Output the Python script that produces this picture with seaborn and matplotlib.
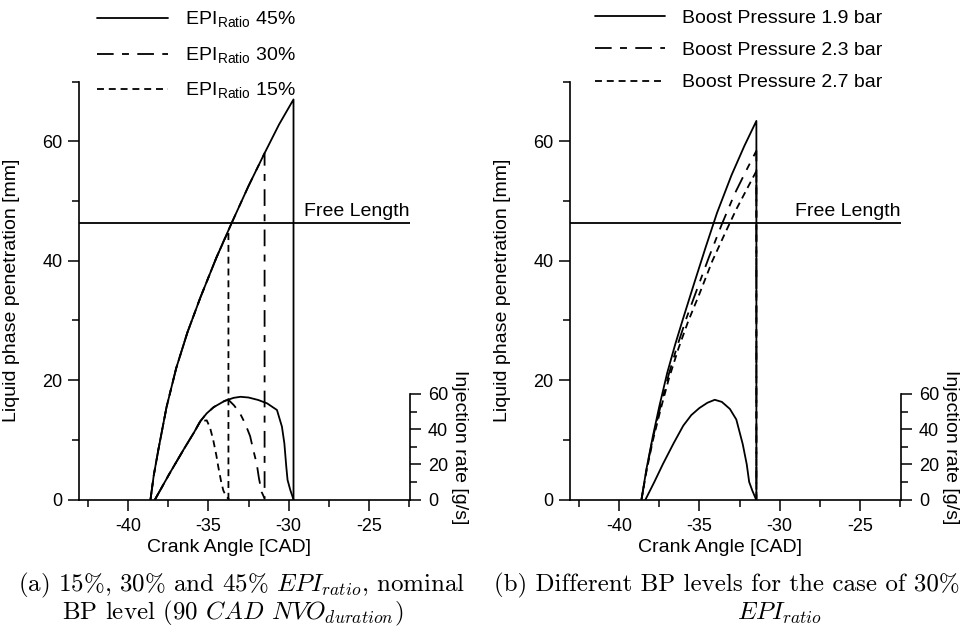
import matplotlib
matplotlib.use("Agg")
import matplotlib.pyplot as plt
from matplotlib.lines import Line2D
from matplotlib.ticker import FixedLocator
import pandas as pd
import seaborn as sns

# ---------------- data ----------------
# (a) EPI ratio sweep, nominal boost pressure: liquid penetration [mm]
cad_pen_45 = [-38.6, -38.4, -38.1, -37.6, -37.0, -36.3, -35.5, -34.5, -33.55, -32.5, -31.5, -30.6, -29.7, -29.7]
pen_45 = [0, 4.0, 8.5, 15.5, 22.0, 28.0, 33.8, 40.5, 46.3, 52.5, 58.0, 62.8, 67.0, 0]
cad_pen_30 = [-38.6, -38.4, -38.1, -37.6, -37.0, -36.3, -35.5, -34.5, -33.55, -32.5, -31.5, -31.5]
pen_30 = [0, 4.0, 8.5, 15.5, 22.0, 28.0, 33.8, 40.5, 46.3, 52.5, 58.0, 0]
cad_pen_15 = [-38.6, -38.4, -38.1, -37.6, -37.0, -36.3, -35.5, -34.5, -33.75, -33.75]
pen_15 = [0, 4.0, 8.5, 15.5, 22.0, 28.0, 33.8, 40.5, 45.0, 0]

# (a) injection rate [g/s]
cad_rate_45 = [-38.32, -37.4, -36.5, -35.9, -35.5, -35.1, -34.67, -34.0, -33.43, -33.0, -32.5, -31.9,
               -31.35, -30.73, -30.42, -30.27, -30.15, -30.07, -29.9, -29.7]
rate_45 = [0, 15, 29, 38, 44.5, 49, 52.5, 56, 57.8, 58.4, 58.0, 56.6, 54.7, 50.9, 41.4, 32, 18.7, 11.1, 5.4, 0]
cad_rate_30 = [-38.32, -37.4, -36.5, -35.9, -35.5, -35.1, -34.67, -34.0, -33.76, -33.4, -33.03, -32.7,
               -32.4, -32.2, -31.99, -31.85, -31.68, -31.47]
rate_30 = [0, 15, 29, 38, 44.5, 49, 52.5, 56, 56.8, 53.5, 49, 43, 36, 28, 20.4, 12, 4.2, 0]
cad_rate_15 = [-38.32, -37.4, -36.5, -35.9, -35.5, -35.1, -34.9, -34.7, -34.5, -34.38, -34.2, -34.07, -33.9, -33.7]
rate_15 = [0, 15, 29, 38, 44.5, 45, 41, 34, 25, 18.5, 10, 5.2, 1.8, 0]

# (b) boost pressure sweep, 30 % EPI ratio: liquid penetration [mm]
cad_pen_19 = [-38.6, -38.3, -37.9, -37.5, -37.0, -36.5, -36.0, -35.3, -34.6, -33.9, -33.0, -32.2, -31.45, -31.45]
pen_19 = [0, 5.0, 10.5, 15.5, 21.2, 26.0, 30.4, 36.4, 42.3, 48.0, 54.3, 59.2, 63.4, 0]
cad_pen_23 = [-38.6, -38.3, -37.9, -37.4, -36.9, -36.4, -35.8, -35.2, -34.4, -33.6, -32.8, -32.1, -31.45, -31.45]
pen_23 = [0, 4.8, 10.2, 15.8, 21.0, 25.5, 30.4, 34.8, 40.6, 46.1, 51.2, 55.0, 58.4, 0]
cad_pen_27 = [-38.6, -38.3, -37.9, -37.4, -36.9, -36.3, -35.7, -35.0, -34.2, -33.4, -32.7, -32.0, -31.45, -31.45]
pen_27 = [0, 4.6, 9.8, 15.2, 20.2, 25.3, 29.8, 34.4, 39.9, 44.6, 48.6, 52.2, 55.0, 0]

# (b) injection rate [g/s]
cad_rate_b = [-38.35, -37.8, -37.26, -36.6, -36.0, -35.5, -35.0, -34.5, -34.04, -33.6, -33.1, -32.7,
              -32.3, -32.05, -31.9, -31.7, -31.47]
rate_b = [0, 10, 20.3, 32, 42, 48, 52, 55, 56.7, 55.5, 51.5, 45.5, 31.5, 20, 10, 5, 0]

FREE_LENGTH = 46.3

labels_a = [r"EPI$_{\mathregular{Ratio}}$ 45%", r"EPI$_{\mathregular{Ratio}}$ 30%", r"EPI$_{\mathregular{Ratio}}$ 15%"]
labels_b = ["Boost Pressure 1.9 bar", "Boost Pressure 2.3 bar", "Boost Pressure 2.7 bar"]

# ---------------- style ----------------
sns.set_style("ticks")
plt.rcParams.update({
    "font.family": ["Liberation Sans", "DejaVu Sans"],
    "axes.unicode_minus": False,
    "mathtext.fontset": "cm",
    "lines.scale_dashes": False,
    "axes.linewidth": 1.2,
    "xtick.major.width": 1.1,
    "ytick.major.width": 1.1,
    "xtick.minor.width": 1.1,
    "ytick.minor.width": 1.1,
    "xtick.major.size": 8,
    "ytick.major.size": 8,
    "xtick.minor.size": 5,
    "ytick.minor.size": 5,
    "xtick.direction": "out",
    "ytick.direction": "out",
    "xtick.labelsize": 13,
    "ytick.labelsize": 13,
    "axes.labelsize": 14,
    "axes.edgecolor": "black",
    "xtick.color": "black",
    "ytick.color": "black",
    "text.color": "black",
    "axes.labelcolor": "black",
})

SOLID = "-"
LONG = (0, (12, 6, 5, 6))
SHORT = (0, (5, 3.5))
LW = 1.3

W, H = 971, 634
fig = plt.figure(figsize=(W / 100, H / 100), dpi=100)

ax_w = 331 / W
ax_h = 418 / H
ax_bottom = 1 - 499.5 / H
axA = fig.add_axes([79 / W, ax_bottom, ax_w, ax_h])
axB = fig.add_axes([570 / W, ax_bottom, ax_w, ax_h])

XLIM = (-43.05, -22.45)
RATE_TOP = 60 * 70 / 17.67


def trace(ax, x, y, ls):
    frame = pd.DataFrame({"cad": x, "val": y})
    sns.lineplot(data=frame, x="cad", y="val", ax=ax, color="black", lw=LW,
                 linestyle=ls, sort=False, estimator=None, legend=False)


def dress(ax):
    ax.set_xlim(*XLIM)
    ax.set_ylim(0, 70)
    for side in ("top", "right"):
        ax.spines[side].set_visible(False)
    ax.xaxis.set_major_locator(FixedLocator([-40, -35, -30, -25]))
    ax.xaxis.set_minor_locator(FixedLocator([-42.5, -37.5, -32.5, -27.5, -22.5]))
    ax.yaxis.set_major_locator(FixedLocator([0, 20, 40, 60]))
    ax.yaxis.set_minor_locator(FixedLocator([10, 30, 50, 70]))
    ax.tick_params(axis="x", which="major", pad=5)
    ax.tick_params(axis="y", which="major", pad=4)
    ax.set_xlabel("Crank Angle [CAD]")
    ax.set_ylabel("Liquid phase penetration [mm]")
    ax.xaxis.set_label_coords(0.453, -0.095)
    ax.yaxis.set_label_coords(-0.178, 0.5)
    ax.axhline(FREE_LENGTH, color="black", lw=LW)
    ax.text(0.68, 47.4, "Free Length", transform=ax.get_yaxis_transform(),
            fontsize=14, ha="left", va="baseline")
    ax.grid(False)


def rate_axis(ax):
    ax2 = ax.twinx()
    ax2.set_ylim(0, RATE_TOP)
    for side in ("top", "left", "bottom"):
        ax2.spines[side].set_visible(False)
    ax2.spines["right"].set_bounds(0, 60)
    ax2.yaxis.set_major_locator(FixedLocator([0, 20, 40, 60]))
    ax2.yaxis.set_minor_locator(FixedLocator([10, 30, 50]))
    ax2.tick_params(axis="y", which="major", pad=5)
    ax2.grid(False)
    return ax2


def rate_label(ax2):
    ax2.set_xlim(*XLIM)
    ax2.set_ylabel("Injection rate [g/s]", rotation=270, fontsize=14)
    ax2.yaxis.set_label_coords(1.175, 0.126)


# ---------------- panel (a) ----------------
dress(axA)
trace(axA, cad_pen_45, pen_45, SOLID)
trace(axA, cad_pen_30, pen_30, LONG)
trace(axA, cad_pen_15, pen_15, SHORT)
rA = rate_axis(axA)
trace(rA, cad_rate_45, rate_45, SOLID)
trace(rA, cad_rate_30, rate_30, LONG)
trace(rA, cad_rate_15, rate_15, SHORT)
rate_label(rA)

# ---------------- panel (b) ----------------
dress(axB)
trace(axB, cad_pen_19, pen_19, SOLID)
trace(axB, cad_pen_23, pen_23, LONG)
trace(axB, cad_pen_27, pen_27, SHORT)
rB = rate_axis(axB)
trace(rB, cad_rate_b, rate_b, SOLID)
rate_label(rB)

# ---------------- legends above the panels ----------------
handles = [Line2D([], [], color="black", lw=LW, linestyle=s) for s in (SOLID, LONG, SHORT)]
fig.legend(handles, labels_a, loc="upper left", bbox_to_anchor=(97 / W, 1 - 10 / H),
           frameon=False, borderpad=0, borderaxespad=0, handlelength=3.66,
           handletextpad=0.87, labelspacing=0.78, fontsize=14)
fig.legend(handles, labels_b, loc="upper left", bbox_to_anchor=(595 / W, 1 - 9 / H),
           frameon=False, borderpad=0, borderaxespad=0, handlelength=3.6,
           handletextpad=0.87, labelspacing=0.76, fontsize=14)

# ---------------- sub-captions ----------------
cap = dict(family="cmr10", fontsize=18, va="center")
fig.text(18 / W, 1 - 585 / H, r"(a) 15%, 30% and 45% $EPI_{ratio}$, nominal", ha="left", **cap)
fig.text(62 / W, 1 - 613 / H, r"BP level (90 $CAD$ $NVO_{duration}$)", ha="left", **cap)
fig.text(494 / W, 1 - 585 / H, r"(b) Different BP levels for the case of 30%", ha="left", **cap)
fig.text(780 / W, 1 - 613 / H, r"$EPI_{ratio}$", ha="center", **cap)

fig.savefig("out.png", dpi=100)
